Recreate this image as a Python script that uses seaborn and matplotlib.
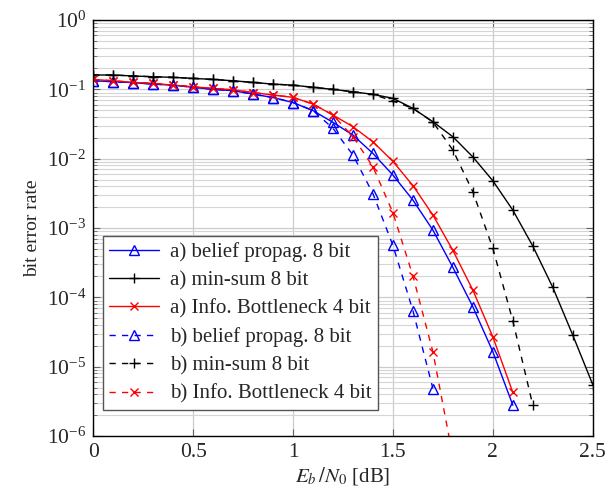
import numpy as np
import pandas as pd
import seaborn as sns
import matplotlib.pyplot as plt
from matplotlib.ticker import LogLocator, NullFormatter, MultipleLocator

# Eb/N0 grid in dB
ebn0 = [0.0, 0.1, 0.2, 0.3, 0.4, 0.5, 0.6, 0.7, 0.8, 0.9, 1.0, 1.1, 1.2,
        1.3, 1.4, 1.5, 1.6, 1.7, 1.8, 1.9, 2.0, 2.1, 2.2, 2.3, 2.4, 2.5]

# a) curves
ber_bp_a = [0.133, 0.129, 0.125, 0.119, 0.115, 0.107, 0.100, 0.0955, 0.0855, 0.0762,
            0.0645, 0.0494, 0.0334, 0.0219, 0.0119, 0.0058, 0.00253, 9.33e-4,
            2.70e-4, 7.3e-5, 1.64e-5, 2.78e-6]
ber_ms_a = [0.161, 0.161, 0.156, 0.152, 0.149, 0.144, 0.139, 0.133, 0.126, 0.119,
            0.115, 0.107, 0.100, 0.0923, 0.0847, 0.0742, 0.0532, 0.0341, 0.0207,
            0.0106, 0.0048, 0.00181, 5.48e-4, 1.39e-4, 2.85e-5, 5.5e-6]
ber_ib_a = [0.139, 0.133, 0.126, 0.122, 0.115, 0.109, 0.103, 0.0987, 0.0899, 0.0828,
            0.0767, 0.0614, 0.0426, 0.0289, 0.0175, 0.00914, 0.00409, 0.00154,
            4.75e-4, 1.27e-4, 2.69e-5, 4.25e-6]

# b) curves
ber_bp_b = [0.133, 0.129, 0.125, 0.119, 0.115, 0.107, 0.100, 0.0955, 0.0855, 0.0762,
            0.0645, 0.0494, 0.0274, 0.0113, 0.00313, 5.61e-4, 6.43e-5, 4.84e-6]
ber_ms_b = [0.161, 0.161, 0.156, 0.152, 0.149, 0.144, 0.139, 0.133, 0.126, 0.119,
            0.115, 0.107, 0.100, 0.0923, 0.0847, 0.068, 0.0532, 0.0338, 0.0133,
            0.00333, 5.08e-4, 4.58e-5, 2.78e-6]
ber_ib_b = [0.139, 0.133, 0.126, 0.122, 0.115, 0.109, 0.103, 0.0987, 0.0899, 0.0828,
            0.0767, 0.0614, 0.0426, 0.0208, 0.00764, 0.00166, 2.04e-4, 1.64e-5, 5e-7]

series = [
    ("a) belief propag. 8 bit", ber_bp_a, "blue", "^", "-"),
    ("a) min-sum 8 bit", ber_ms_a, "black", "+", "-"),
    ("a) Info. Bottleneck 4 bit", ber_ib_a, "red", "x", "-"),
    ("b) belief propag. 8 bit", ber_bp_b, "blue", "^", (0, (4.5, 4.5))),
    ("b) min-sum 8 bit", ber_ms_b, "black", "+", (0, (4.5, 4.5))),
    ("b) Info. Bottleneck 4 bit", ber_ib_b, "red", "x", (0, (4.5, 4.5))),
]

sns.set_style("ticks")
plt.rcParams['font.family'] = ['Liberation Serif', 'DejaVu Serif']
plt.rcParams['mathtext.fontset'] = 'stix'

fig = plt.figure(figsize=(6.13, 4.92), dpi=100)
ax = fig.add_axes([0.152, 0.1138, 0.815, 0.8455])

for name, vals, col, mk, ls in series:
    df = pd.DataFrame({'ebn0': ebn0[:len(vals)], 'ber': vals})
    sns.lineplot(data=df, x='ebn0', y='ber', ax=ax, color=col, linestyle=ls,
                 linewidth=1.0, marker=mk, markersize=7 if mk != "x" else 6,
                 markerfacecolor='none', markeredgecolor=col, markeredgewidth=1.0,
                 label=name, sort=False)

ax.set_yscale('log')
ax.set_xlim(0, 2.5)
ax.set_ylim(1e-6, 1)
ax.xaxis.set_major_locator(MultipleLocator(0.5))
ax.xaxis.set_major_formatter(plt.FuncFormatter(lambda v, p: f"{v:g}"))
ax.yaxis.set_major_locator(LogLocator(base=10, numticks=10))
ax.yaxis.set_minor_locator(LogLocator(base=10, subs=np.arange(2, 10), numticks=100))
ax.yaxis.set_minor_formatter(NullFormatter())

ax.grid(True, which='major', color='#cccccc', linewidth=0.9)
ax.grid(True, which='minor', axis='y', color='#d5d5d5', linewidth=0.8)
ax.set_axisbelow(True)

ax.tick_params(which='both', direction='in', top=True, right=True, labelsize=15.5,
               color='#666666')
ax.tick_params(which='major', length=5, pad=5)
ax.tick_params(which='minor', length=3)
for s in ax.spines.values():
    s.set_color('black')
    s.set_linewidth(1.0)

ax.set_xlabel('$E_b\\,/N_0$ [dB]', fontsize=15, labelpad=2)
ax.set_ylabel('bit error rate', fontsize=14, labelpad=4)

leg = ax.legend(loc='lower left', bbox_to_anchor=(0.02, 0.062), fontsize=15,
                frameon=True, fancybox=False, edgecolor='#555555', framealpha=1,
                handlelength=2.4, handletextpad=0.5, borderpad=0.3, labelspacing=0.42,
                borderaxespad=0)
leg.get_frame().set_linewidth(1.0)

fig.savefig('out.png', dpi=100)
